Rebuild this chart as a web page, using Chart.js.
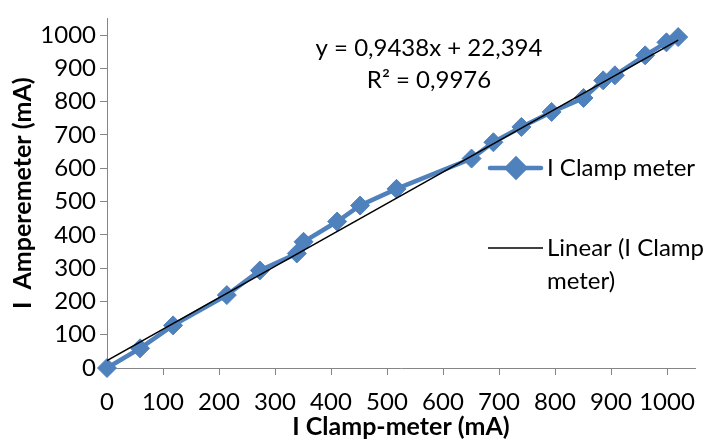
<!DOCTYPE html>
<html>
<head>
    <title>I Clamp meter vs Amperemeter</title>
    <script src="https://cdn.jsdelivr.net/npm/chart.js"></script>
    <style>
        body {
            margin: 0;
            background-color: #ffffff;
        }
        #chart {
            display: block;
        }
    </style>
</head>
<body>
    <canvas id="chart" width="709" height="439"></canvas>

    <script>
        // readings (mA)
        const clampValues = [0, 59, 118, 214, 273, 339, 351, 411, 452, 517, 651, 690, 740, 794, 851, 886, 907, 961, 999, 1020];
        const ampereValues = [0, 59, 128, 219, 293, 344, 379, 440, 488, 538, 629, 678, 724, 769, 811, 864, 879, 939, 978, 994];

        // trend line end points
        const trendX = [0, 1020];
        const trendY = [22, 985];

        const equationText = 'y = 0,9438x + 22,394';
        const r2Text = 'R² = 0,9976';
        const seriesName = 'I Clamp meter';
        const trendName = ['Linear (I Clamp', 'meter)'];

        const blue = '#4f81bd';
        const axisGrey = '#868686';
        const fontFamily = 'Lato, "Open Sans", sans-serif';

        // equation + custom legend (legend overlaps the plot area like in Excel)
        const overlayPlugin = {
            id: 'overlay',
            afterDraw(chart) {
                const ctx = chart.ctx;
                ctx.save();
                ctx.fillStyle = '#000';
                ctx.font = '24px ' + fontFamily;
                ctx.textBaseline = 'middle';

                ctx.textAlign = 'center';
                ctx.fillText(equationText, 429, 48);
                ctx.fillText(r2Text, 429, 80);

                // series entry
                ctx.strokeStyle = blue;
                ctx.lineWidth = 4.5;
                ctx.lineCap = 'round';
                ctx.beginPath();
                ctx.moveTo(490, 168);
                ctx.lineTo(541, 168);
                ctx.stroke();
                Chart.helpers.drawPoint(ctx, {pointStyle: 'rectRot', radius: 9, borderWidth: 1}, 516, 168);
                ctx.fillStyle = blue;
                ctx.fill();

                // trend entry
                ctx.strokeStyle = '#000';
                ctx.lineWidth = 1.5;
                ctx.lineCap = 'butt';
                ctx.beginPath();
                ctx.moveTo(488, 248);
                ctx.lineTo(543, 248);
                ctx.stroke();

                ctx.fillStyle = '#000';
                ctx.textAlign = 'left';
                ctx.fillText(seriesName, 547, 168);
                ctx.fillText(trendName[0], 547, 248);
                ctx.fillText(trendName[1], 547, 281);
                ctx.restore();
            }
        };

        const ctx = document.getElementById('chart').getContext('2d');
        new Chart(ctx, {
            type: 'scatter',
            data: {
                datasets: [{
                    label: seriesName,
                    data: clampValues.map((x, i) => ({x: x, y: ampereValues[i]})),
                    showLine: true,
                    clip: false,
                    borderColor: blue,
                    backgroundColor: blue,
                    borderWidth: 4.5,
                    pointStyle: 'rectRot',
                    pointRadius: 9.5,
                    pointBorderWidth: 1,
                    pointBorderColor: blue,
                    order: 1
                }, {
                    label: 'Linear',
                    data: trendX.map((x, i) => ({x: x, y: trendY[i]})),
                    showLine: true,
                    borderColor: '#000000',
                    borderWidth: 1.5,
                    pointRadius: 0,
                    order: 0
                }]
            },
            options: {
                responsive: false,
                animation: false,
                devicePixelRatio: 1,
                layout: {
                    padding: {top: 18, right: 14, left: 0, bottom: 0}
                },
                scales: {
                    x: {
                        type: 'linear',
                        min: 0,
                        max: 1050,
                        afterFit(scale) { scale.height = 71; },
                        ticks: {
                            stepSize: 100,
                            includeBounds: false,
                            maxRotation: 0,
                            autoSkip: false,
                            color: '#000',
                            padding: 13,
                            callback: (v) => String(v),
                            font: {family: fontFamily, size: 24}
                        },
                        grid: {
                            drawOnChartArea: false,
                            tickLength: 7,
                            color: axisGrey
                        },
                        border: {color: axisGrey, width: 1},
                        title: {
                            display: true,
                            text: 'I Clamp-meter (mA)',
                            color: '#000',
                            padding: 0,
                            font: {family: fontFamily, size: 25, weight: 'bold', lineHeight: 1}
                        }
                    },
                    y: {
                        min: 0,
                        max: 1050,
                        afterFit(scale) { scale.width = 107; },
                        ticks: {
                            stepSize: 100,
                            includeBounds: false,
                            color: '#000',
                            padding: 4,
                            callback: (v) => String(v),
                            font: {family: fontFamily, size: 24}
                        },
                        grid: {
                            drawOnChartArea: false,
                            tickLength: 7,
                            color: axisGrey
                        },
                        border: {color: axisGrey, width: 1},
                        title: {
                            display: true,
                            text: 'I  Amperemeter (mA)',
                            color: '#000',
                            padding: {top: 10, bottom: 0},
                            font: {family: fontFamily, size: 25, weight: 'bold', lineHeight: 1}
                        }
                    }
                },
                plugins: {
                    legend: {display: false},
                    tooltip: {enabled: false}
                }
            },
            plugins: [overlayPlugin]
        });
    </script>
</body>
</html>
